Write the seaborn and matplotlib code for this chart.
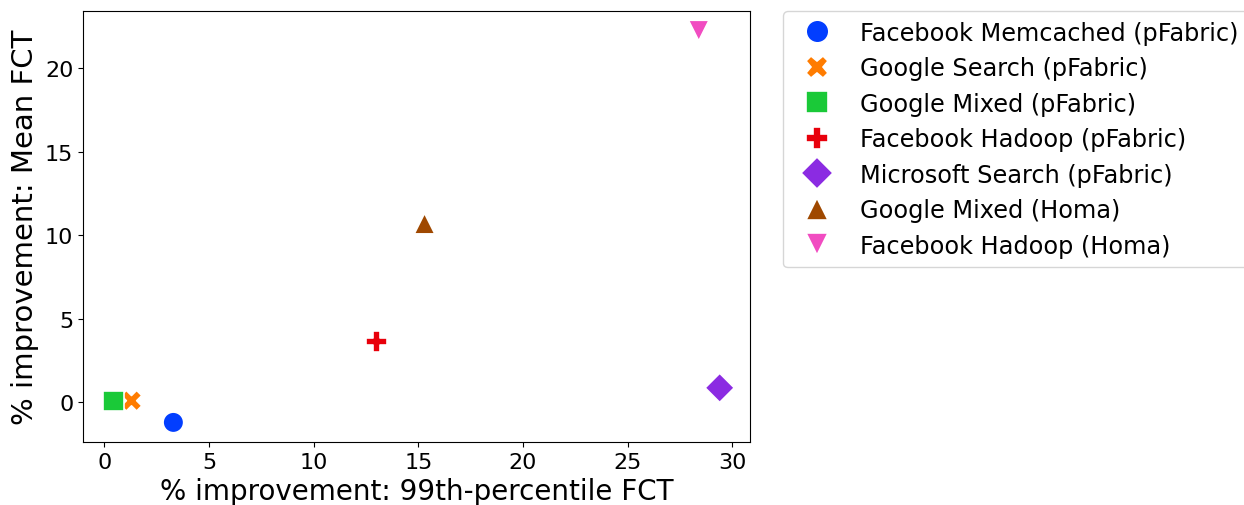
import pandas as pd
import matplotlib
matplotlib.use("Agg")
import matplotlib.pyplot as plt
import seaborn as sns

# ==============================
# Data
# ==============================
workloads = [
    "Facebook Memcached (pFabric)",
    "Google Search (pFabric)",
    "Google Mixed (pFabric)",
    "Facebook Hadoop (pFabric)",
    "Microsoft Search (pFabric)",
    "Google Mixed (Homa)",
    "Facebook Hadoop (Homa)",
]
p99_improvement = [3.3, 1.3, 0.43, 13.0, 29.4, 15.3, 28.4]
mean_improvement = [-1.2, 0.1, 0.07, 3.65, 0.87, 10.7, 22.25]
marker_list = ["o", "X", "s", "P", "D", "^", "v"]

df = pd.DataFrame({
    "workload": workloads,
    "p99": p99_improvement,
    "mean": mean_improvement,
})

# ==============================
# Plot
# ==============================
fig = plt.figure(figsize=(12.44, 5.06), dpi=100)
ax = fig.add_axes([0.0667, 0.1245, 0.5362, 0.8518])

sns.scatterplot(data=df, x="p99", y="mean", hue="workload", style="workload",
                palette="bright", markers=marker_list, s=220, ax=ax)

ax.set_xlabel("% improvement: 99th-percentile FCT", fontsize=20)
ax.set_ylabel("% improvement: Mean FCT", fontsize=21)
ax.tick_params(labelsize=16)
ax.set_xticks([0, 5, 10, 15, 20, 25, 30])

ax.legend(bbox_to_anchor=(1.05, 1), loc="upper left", borderaxespad=0,
          fontsize=17.3, labelspacing=0.48, markerscale=1.1)

fig.savefig("out.png", dpi=100)
